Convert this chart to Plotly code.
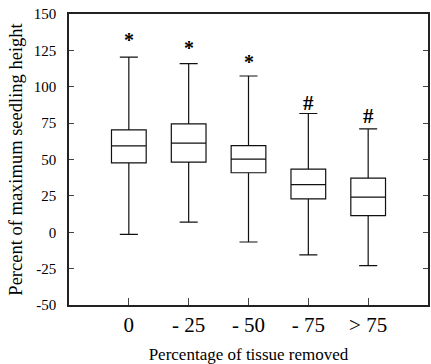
import plotly.graph_objects as go

categories = ["0", "- 25", "- 50", "- 75", "> 75"]
upper = [120.3, 115.9, 107.4, 81.6, 71.1]
q3 = [70.4, 74.5, 59.6, 43.4, 37.2]
median = [59.4, 61.3, 50.3, 32.8, 24.2]
q1 = [47.7, 48.2, 40.9, 23.0, 11.4]
lower = [-1.5, 7.0, -6.7, -15.6, -23.0]
marks = ["*", "*", "*", "#", "#"]
mark_y = [132, 126.5, 116.8, 88.7, 80]
ytick_vals = [-50, -25, 0, 25, 50, 75, 100, 125, 150]
ytick_text = ["-50", "-25", "0", "25", "50", "75", "100", "125", "150"]

xs = list(range(len(categories)))
font = "Liberation Serif, Times New Roman, Times, serif"

fig = go.Figure()
fig.add_trace(go.Box(
    x=xs, q1=q1, median=median, q3=q3, lowerfence=lower, upperfence=upper,
    width=0.58, whiskerwidth=0.52,
    fillcolor="white", line=dict(color="#111", width=1.2),
    showlegend=False, hoverinfo="skip",
))
for x, m, y in zip(xs, marks, mark_y):
    fig.add_annotation(x=x, y=y, text=f"<b>{m}</b>", showarrow=False,
                       font=dict(family=font, size=20 if m == "*" else 21, color="#000"))

fig.update_layout(
    width=431, height=364,
    margin=dict(l=69, r=1, t=14, b=59),
    paper_bgcolor="white", plot_bgcolor="white",
    font=dict(family=font, color="#111"),
)
fig.update_xaxes(
    range=[-1, 5], tickvals=xs, ticktext=categories,
    tickfont=dict(size=21, family=font, color="#000"),
    ticks="inside", ticklen=7, tickcolor="#444",
    showline=True, linecolor="#222", linewidth=1.5, mirror=True,
    showgrid=False, zeroline=False,
    title=dict(text="Percentage of tissue removed", font=dict(size=17, family=font, color="#000"), standoff=14),
)
fig.update_yaxes(
    range=[-50, 150], tickvals=ytick_vals, ticktext=ytick_text,
    tickfont=dict(size=15, family=font, color="#000"),
    ticks="inside", ticklen=5, tickcolor="#444",
    ticklabelstandoff=8,
    showline=True, linecolor="#222", linewidth=1.5, mirror="ticks",
    showgrid=False, zeroline=False,
    title=dict(text="Percent of maximum seedling height", font=dict(size=18.5, family=font, color="#000"), standoff=6),
)

fig.write_html("out.html", config={"displayModeBar": False},
               post_script="document.body.style.margin='0';document.body.style.overflow='hidden';")
